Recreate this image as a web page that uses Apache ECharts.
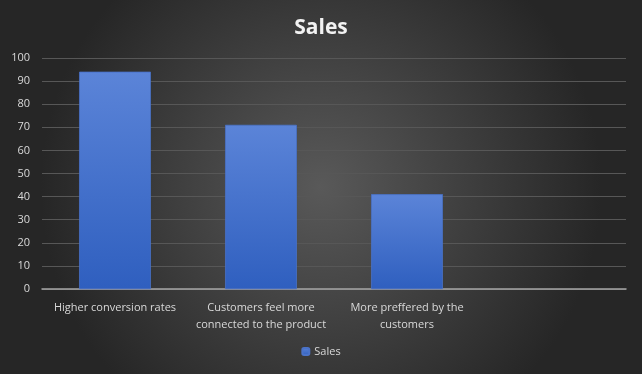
<!DOCTYPE html>
<html><head><meta charset="utf-8">
<script src="https://cdn.jsdelivr.net/npm/echarts@6/dist/echarts.min.js"></script>
<style>html,body{margin:0;padding:0;}#c{width:642px;height:374px;}</style>
</head><body><div id="c"></div>
<script>
var categories = ['Higher conversion rates', 'Customers feel more\nconnected to the product', 'More preffered by the\ncustomers', ''];
var salesValues = [94, 71, 41, null];
var yTicks = {min: 0, max: 100, interval: 10};

var chart = echarts.init(document.getElementById('c'));
chart.setOption({
  backgroundColor: {type: 'radial', x: 0.5, y: 0.5, r: 0.75,
    colorStops: [{offset: 0, color: '#595959'}, {offset: 1, color: '#262626'}]},
  title: {text: 'Sales', left: 'center', top: 13,
    textStyle: {color: '#f2f2f2', fontSize: 21, fontWeight: 'bold', fontFamily: 'Open Sans'}},
  legend: {bottom: 12, left: 'center', itemWidth: 7, itemHeight: 7, itemGap: 4,
    textStyle: {color: '#d9d9d9', fontSize: 11, fontFamily: 'Open Sans'}, data: ['Sales']},
  grid: {left: 42, right: 16, top: 58, bottom: 85, containLabel: false},
  xAxis: {type: 'category', data: categories,
    axisLine: {lineStyle: {color: '#a6a6a6', width: 1.5}},
    axisTick: {show: false},
    axisLabel: {color: '#d9d9d9', fontSize: 11, fontFamily: 'Open Sans', interval: 0, margin: 10, lineHeight: 17}},
  yAxis: {type: 'value', min: yTicks.min, max: yTicks.max, interval: yTicks.interval,
    axisLine: {show: false}, axisTick: {show: false},
    splitLine: {lineStyle: {color: '#575757', width: 1}},
    axisLabel: {color: '#d9d9d9', fontSize: 11, fontFamily: 'Open Sans', margin: 12}},
  series: [{name: 'Sales', type: 'bar', data: salesValues, barWidth: '49%',
    itemStyle: {color: {type: 'linear', x: 0, y: 0, x2: 0, y2: 1,
      colorStops: [{offset: 0, color: '#5b84d8'}, {offset: 1, color: '#2f5fbf'}]},
      borderColor: '#4a72c8', borderWidth: 0.5}}]
});
</script></body></html>
